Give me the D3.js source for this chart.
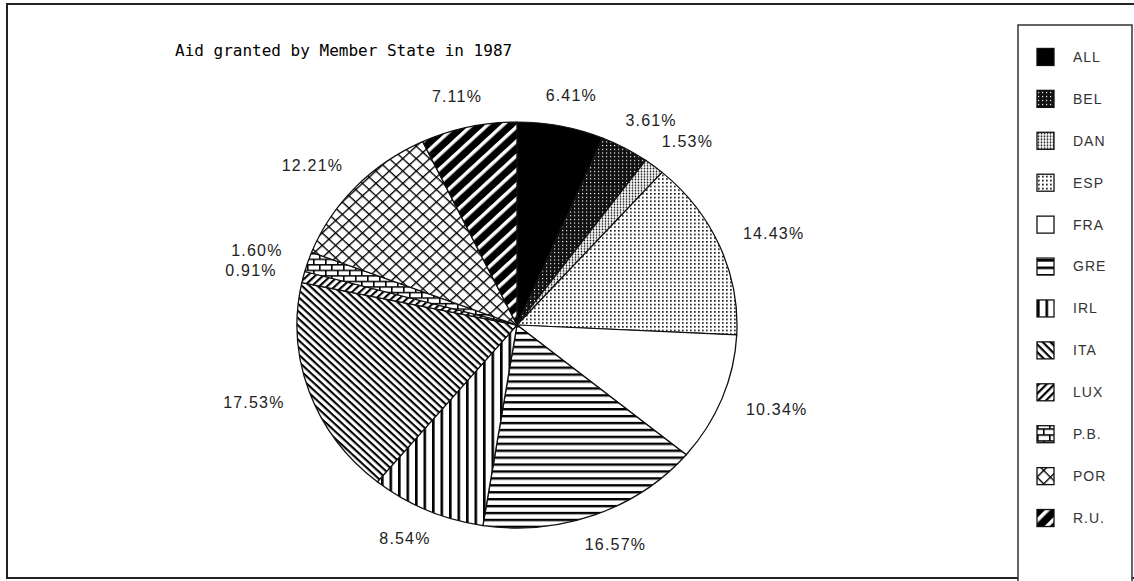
<!DOCTYPE html>
<html>
<head>
<meta charset="utf-8">
<script src="https://cdn.jsdelivr.net/npm/d3@7"></script>
<style>
  body { margin: 0; background: #fff; }
  svg { display: block; }
</style>
</head>
<body>
<div id="chart"></div>
<script>
// data
const title = "Aid granted by Member State in 1987";
const states = ["ALL", "BEL", "DAN", "ESP", "FRA", "GRE", "IRL", "ITA", "LUX", "P.B.", "POR", "R.U."];
const shares = [6.41, 3.61, 1.53, 14.43, 10.34, 16.57, 8.54, 17.53, 0.91, 1.60, 12.21, 7.11];
const shareLabels = ["6.41%", "3.61%", "1.53%", "14.43%", "10.34%", "16.57%", "8.54%", "17.53%", "0.91%", "1.60%", "12.21%", "7.11%"];

const width = 1134, height = 581;
const cx = 517, cy = 325, rx = 220, ry = 203;

const svg = d3.select("#chart").append("svg")
    .attr("width", width)
    .attr("height", height);

const defs = svg.append("defs");

// hatch fills, one per state
function pattern(id, size, bg, rotate) {
    const p = defs.append("pattern")
        .attr("id", id)
        .attr("patternUnits", "userSpaceOnUse")
        .attr("width", size)
        .attr("height", size);
    if (rotate) p.attr("patternTransform", `rotate(${rotate})`);
    p.append("rect").attr("width", size).attr("height", size).attr("fill", bg);
    return p;
}

pattern("p-bel", 4, "#111").append("rect").attr("x", 1).attr("y", 1).attr("width", 1.2).attr("height", 1.2).attr("fill", "#fff");
pattern("p-dan", 3, "#fff").append("circle").attr("cx", 1.5).attr("cy", 1.5).attr("r", 0.9).attr("fill", "#111");
pattern("p-esp", 4, "#fff").append("rect").attr("x", 1).attr("y", 1).attr("width", 1.7).attr("height", 1.7).attr("fill", "#111");
pattern("p-gre", 7.5, "#fff").append("rect").attr("y", 0).attr("width", 7.5).attr("height", 2.6).attr("fill", "#000");
pattern("p-irl", 8.5, "#fff").append("rect").attr("x", 0).attr("width", 2.6).attr("height", 8.5).attr("fill", "#000");
pattern("p-ita", 5.5, "#fff", 45).append("rect").attr("width", 5.5).attr("height", 2.2).attr("fill", "#000");
pattern("p-lux", 5.5, "#fff", -45).append("rect").attr("width", 5.5).attr("height", 2.2).attr("fill", "#000");
const pb = pattern("p-pb", 12, "#fff");
pb.append("rect").attr("width", 12).attr("height", 1.6).attr("fill", "#000");
pb.append("rect").attr("y", 6).attr("width", 12).attr("height", 1.6).attr("fill", "#000");
pb.append("rect").attr("x", 0).attr("width", 1.6).attr("height", 6).attr("fill", "#000");
pb.append("rect").attr("x", 6).attr("y", 6).attr("width", 1.6).attr("height", 6).attr("fill", "#000");
const por = pattern("p-por", 9.5, "#fff", 45);
por.append("rect").attr("width", 9.5).attr("height", 1.4).attr("fill", "#000");
por.append("rect").attr("width", 1.4).attr("height", 9.5).attr("fill", "#000");
pattern("p-ru", 11, "#000", -45).append("rect").attr("width", 11).attr("height", 3.6).attr("fill", "#fff");

const fills = {
    "ALL": "#000", "BEL": "url(#p-bel)", "DAN": "url(#p-dan)", "ESP": "url(#p-esp)",
    "FRA": "#fff", "GRE": "url(#p-gre)", "IRL": "url(#p-irl)", "ITA": "url(#p-ita)",
    "LUX": "url(#p-lux)", "P.B.": "url(#p-pb)", "POR": "url(#p-por)", "R.U.": "url(#p-ru)"
};

// frame + legend box
svg.append("rect")
    .attr("x", 7).attr("y", 4)
    .attr("width", 1140).attr("height", 574)
    .attr("fill", "none").attr("stroke", "#222").attr("stroke-width", 2);

svg.append("rect")
    .attr("x", 1018).attr("y", 25)
    .attr("width", 114).attr("height", 600)
    .attr("fill", "#fff").attr("stroke", "#333").attr("stroke-width", 1.5);

svg.append("text")
    .attr("x", 175).attr("y", 56)
    .attr("font-family", "DejaVu Sans Mono, monospace")
    .attr("font-size", 16)
    .attr("fill", "#000")
    .text(title);

const table = states.map((s, i) => ({ state: s, value: shares[i], label: shareLabels[i] }));

const pie = d3.pie().sort(null).value(d => d.value);
const arcs = pie(table);
const arc = d3.arc().innerRadius(0).outerRadius(rx);

const g = svg.append("g")
    .attr("transform", `translate(${cx},${cy}) scale(1,${ry / rx})`);

g.selectAll("path")
    .data(arcs)
    .join("path")
    .attr("d", arc)
    .attr("fill", d => fills[d.data.state])
    .attr("stroke", "#111")
    .attr("stroke-width", 1.3)
    .attr("stroke-linejoin", "round");

// percentage labels just outside the rim
const labels = svg.append("g")
    .attr("font-family", "Liberation Sans, Arial, sans-serif")
    .attr("font-size", 16)
    .attr("letter-spacing", 1.2)
    .attr("fill", "#222")
    .selectAll("text")
    .data(arcs)
    .join("text")
    .attr("text-anchor", "middle")
    .attr("dominant-baseline", "central")
    .text(d => d.data.label);

const k = 1.1;
labels.each(function (d) {
    const a = (d.startAngle + d.endAngle) / 2;
    const w = this.getComputedTextLength();
    const s = Math.sin(a), c = Math.cos(a);
    d.lx = cx + rx * k * s + s * (w / 2 + 6);
    d.ly = cy - ry * k * c - c * (7 + 4);
});
// keep stacked labels on the left side apart
const left = arcs.filter(d => Math.sin((d.startAngle + d.endAngle) / 2) < 0).sort((a, b) => a.ly - b.ly);
for (let i = 1; i < left.length; i++) {
    if (left[i].ly - left[i - 1].ly < 20) {
        const mid = (left[i].ly + left[i - 1].ly) / 2;
        left[i - 1].ly = mid - 10;
        left[i].ly = mid + 10;
    }
}
labels.attr("x", d => d.lx).attr("y", d => d.ly);

// legend
const ly = d3.scaleBand().domain(states).range([36, 539]);
const legend = svg.append("g")
    .selectAll("g")
    .data(states)
    .join("g")
    .attr("transform", d => `translate(1037,${ly(d) + ly.bandwidth() / 2})`);

legend.append("rect")
    .attr("x", 0).attr("y", -8.5)
    .attr("width", 17).attr("height", 17)
    .attr("fill", d => fills[d])
    .attr("stroke", "#111")
    .attr("stroke-width", 1.3);

legend.append("text")
    .attr("x", 36)
    .attr("dy", "0.35em")
    .attr("font-family", "Liberation Sans, Arial, sans-serif")
    .attr("font-size", 14)
    .attr("letter-spacing", 1)
    .attr("fill", "#333")
    .text(d => d);
</script>
</body>
</html>
